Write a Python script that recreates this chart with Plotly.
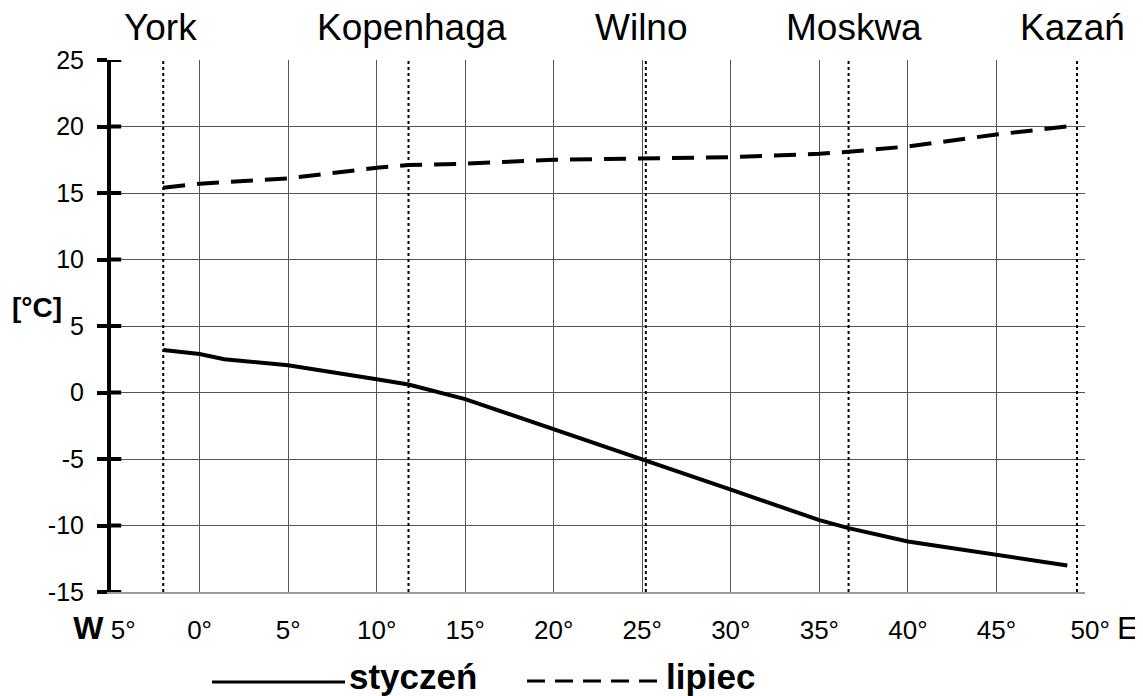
import plotly.graph_objects as go

# ---- data ----
jan_lon = [-2.05, 0, 1.4, 5, 10, 11.8, 15, 20, 25, 30, 35, 36.65, 40, 45, 49]
jan_temp = [3.2, 2.9, 2.5, 2.05, 1.0, 0.6, -0.5, -2.75, -5.0, -7.3, -9.6, -10.2, -11.2, -12.2, -13.0]

jul_lon = [-2.05, 0, 5, 10, 11.8, 15, 20, 25, 30, 35, 36.65, 40, 45, 49]
jul_temp = [15.4, 15.7, 16.1, 16.9, 17.1, 17.2, 17.5, 17.6, 17.7, 17.95, 18.1, 18.5, 19.4, 20.0]

cities = ["York", "Kopenhaga", "Wilno", "Moskwa", "Kazań"]
city_lon = [-2.05, 11.8, 25.2, 36.65, 49.55]
city_label_shift = [-3, 3, -4, 5, -5]  # px nudges of label centres

x_ticks = [-5, 0, 5, 10, 15, 20, 25, 30, 35, 40, 45, 50]
x_ticktext = ['<span style="font-size:32px"><b>W</b></span> 5°\u2002',
              "0°", "5°", "10°", "15°", "20°", "25°", "30°", "35°", "40°", "45°",
              '\u2002\u2002\u200250° <span style="font-size:32px">E</span>']
y_ticks = [-15, -10, -5, 0, 5, 10, 15, 20, 25]
y_ticktext = ["-15", "-10", "-5", "0", "5", "10", "15", "20", "25"]

series_names = ["styczeń", "lipiec"]

FONT = "Liberation Sans, Arial, sans-serif"

# page body has an 8px margin: figure is sized/placed to compensate
W, H = 1135, 688
PL, PT, PR, PB = 111, 60, 1085, 592  # plot area in window pixels
OFF = 8

fig = go.Figure()

fig.add_trace(go.Scatter(x=jan_lon, y=jan_temp, mode="lines", name=series_names[0],
                         line=dict(color="black", width=4), showlegend=False))
fig.add_trace(go.Scatter(x=jul_lon, y=jul_temp, mode="lines", name=series_names[1],
                         line=dict(color="black", width=4, dash="22px,12px"), showlegend=False))

# dotted city meridians + city names
for name, lon, sh in zip(cities, city_lon, city_label_shift):
    fig.add_shape(type="line", xref="x", yref="y domain", x0=lon, x1=lon, y0=0, y1=1,
                  line=dict(color="black", width=2, dash="dot"), layer="above")
    fig.add_annotation(x=lon, xref="x", y=1, yref="paper", text=name, showarrow=False,
                       xanchor="center", yanchor="bottom", yshift=10, xshift=sh,
                       font=dict(family=FONT, size=37, color="black"))

# inner half of the cross ticks on the y axis
for v in y_ticks:
    fig.add_shape(type="line", xref="x domain", yref="y", x0=0, x1=0.0105, y0=v, y1=v,
                  line=dict(color="black", width=4), layer="above")

# y-axis unit
fig.add_annotation(x=0, xref="paper", y=6.4, yref="y", text="<b>[°C]</b>", showarrow=False,
                   xanchor="center", yanchor="middle", xshift=-74,
                   font=dict(family=FONT, size=28, color="black"))

# manual legend (positions in window pixels -> paper coords)
def px_x(p):
    return (p - PL) / float(PR - PL)

def px_y(p):
    return (PB - p) / float(PB - PT)

fig.add_shape(type="line", xref="paper", yref="paper", x0=px_x(212), x1=px_x(345),
              y0=px_y(682), y1=px_y(682), line=dict(color="black", width=3))
fig.add_shape(type="line", xref="paper", yref="paper", x0=px_x(527), x1=px_x(657),
              y0=px_y(681), y1=px_y(681), line=dict(color="black", width=3, dash="18px,10px"))
fig.add_annotation(x=px_x(347), xref="paper", y=px_y(676), yref="paper",
                   text="<b>" + series_names[0] + "</b>", showarrow=False,
                   xanchor="left", yanchor="middle", font=dict(family=FONT, size=35, color="black"))
fig.add_annotation(x=px_x(664), xref="paper", y=px_y(676), yref="paper",
                   text="<b>" + series_names[1] + "</b>", showarrow=False,
                   xanchor="left", yanchor="middle", font=dict(family=FONT, size=35, color="black"))

fig.update_layout(
    width=W, height=H,
    margin=dict(l=PL - OFF, r=W + OFF - PR, t=PT - OFF, b=H + OFF - PB, pad=0),
    paper_bgcolor="white", plot_bgcolor="white",
    font=dict(family=FONT, color="black"),
    showlegend=False,
    xaxis=dict(range=[-5, 50], tickvals=x_ticks, ticktext=x_ticktext, automargin=False,
               showgrid=True, gridcolor="#555555", gridwidth=1,
               showline=True, linecolor="#9a9a9a", linewidth=2, mirror=False,
               ticks="", zeroline=False, ticklabelstandoff=14,
               tickfont=dict(family=FONT, size=26, color="black")),
    yaxis=dict(range=[-15, 25], tickvals=y_ticks, ticktext=y_ticktext, automargin=False,
               showgrid=True, gridcolor="#555555", gridwidth=1,
               showline=True, linecolor="black", linewidth=4,
               ticks="outside", ticklen=10, tickwidth=4, tickcolor="black",
               zeroline=False, ticklabelstandoff=8,
               tickfont=dict(family=FONT, size=25, color="black")),
)

fig.write_html("out.html")
